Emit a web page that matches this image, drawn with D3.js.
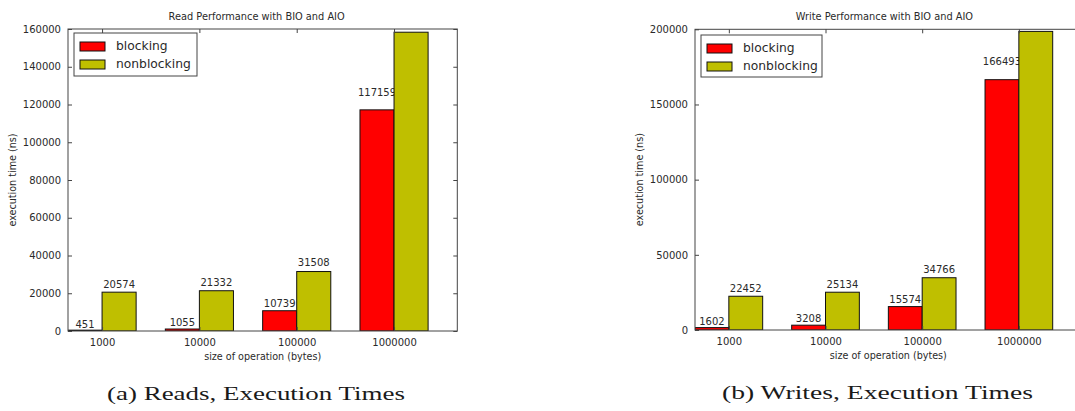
<!DOCTYPE html>
<html>
<head>
<meta charset="utf-8">
<script src="https://cdn.jsdelivr.net/npm/d3@7/dist/d3.min.js"></script>
<style>
  html, body { margin: 0; padding: 0; background: #fff; }
  svg { display: block; }
</style>
</head>
<body>
<svg id="chart" width="1075" height="411"></svg>
<script>
// ---------- data ----------
const categories = ["1000", "10000", "100000", "1000000"];
const seriesNames = ["blocking", "nonblocking"];
const readBlocking = [451, 1055, 10739, 117159];
const readNonblocking = [20574, 21332, 31508, 158300];
const writeBlocking = [1602, 3208, 15574, 166493];
const writeNonblocking = [22452, 25134, 34766, 198600];
const readYTicks = [0, 20000, 40000, 60000, 80000, 100000, 120000, 140000, 160000];
const writeYTicks = [0, 50000, 100000, 150000, 200000];
const titles = ["Read Performance with BIO and AIO", "Write Performance with BIO and AIO"];
const captions = ["(a) Reads, Execution Times", "(b) Writes, Execution Times"];
const xLabel = "size of operation (bytes)";
const yLabel = "execution time (ns)";

// ---------- style ----------
const colors = ["#ff0000", "#bfbf00"];
const barWidth = 0.35;
const sans = "DejaVu Sans, sans-serif";
const textColor = "#2a2a2a";
const spineColor = "#444";

const svg = d3.select("#chart");

function drawChart(cfg) {
  const { left, right, top, bottom, yMax, yTicks, blocking, nonblocking, title, caption, id, legend, cap } = cfg;
  const x = d3.scaleLinear().domain([0, categories.length]).range([left, right]);
  const y = d3.scaleLinear().domain([0, yMax]).range([bottom, top]);
  const g = svg.append("g");

  g.append("clipPath").attr("id", "clip" + id)
    .append("rect").attr("x", left).attr("y", top).attr("width", right - left).attr("height", bottom - top);

  const plot = g.append("g").attr("clip-path", `url(#clip${id})`);
  const series = [blocking, nonblocking];
  series.forEach((vals, s) => {
    const layer = plot.append("g");
    layer.selectAll("rect").data(vals).join("rect")
      .attr("x", (d, i) => x(i + s * barWidth))
      .attr("y", d => y(d))
      .attr("width", (d, i) => x(i + (s + 1) * barWidth) - x(i + s * barWidth))
      .attr("height", d => y(0) - y(d))
      .attr("fill", colors[s])
      .attr("stroke", "#111")
      .attr("stroke-width", 1);
    layer.selectAll("text").data(vals).join("text")
      .attr("x", (d, i) => x(i + s * barWidth + barWidth / 2))
      .attr("y", d => y(d * 1.05) - 2.5)
      .attr("text-anchor", "middle")
      .attr("font-family", sans).attr("font-size", 10)
      .attr("fill", textColor)
      .text(d => d);
  });

  // Axes (inward ticks on all four sides)
  const yAxisL = d3.axisLeft(y).tickValues(yTicks).tickSize(-4).tickPadding(7).tickFormat(d3.format("d"));
  const yAxisR = d3.axisRight(y).tickValues(yTicks).tickSize(-4).tickFormat("");
  const xAxisB = d3.axisBottom(x).tickValues(categories.map((c, i) => i + barWidth))
    .tickSize(-4).tickPadding(8).tickFormat((d, i) => categories[i]);
  const xAxisT = d3.axisTop(x).tickValues(categories.map((c, i) => i + barWidth)).tickSize(-4).tickFormat("");

  const axes = [
    g.append("g").attr("transform", `translate(${left},0)`).call(yAxisL),
    g.append("g").attr("transform", `translate(${right},0)`).call(yAxisR),
    g.append("g").attr("transform", `translate(0,${bottom})`).call(xAxisB),
    g.append("g").attr("transform", `translate(0,${top})`).call(xAxisT)
  ];
  axes.forEach(a => {
    a.select(".domain").remove();
    a.selectAll(".tick line").attr("stroke", spineColor);
    a.selectAll(".tick text").attr("font-family", sans).attr("font-size", 10).attr("fill", textColor);
  });

  // frame
  g.append("rect").attr("x", left).attr("y", top).attr("width", right - left).attr("height", bottom - top)
    .attr("fill", "none").attr("stroke", spineColor).attr("stroke-width", 1);

  // title
  g.append("text").attr("x", (left + right) / 2 + cfg.titleDx).attr("y", top - 9)
    .attr("text-anchor", "middle").attr("font-family", sans).attr("font-size", 9.8)
    .attr("fill", textColor).text(title);

  // axis labels
  g.append("text").attr("x", (left + Math.min(right, 458 + (left - 68))) / 2).attr("y", bottom + 29)
    .attr("text-anchor", "middle").attr("font-family", sans).attr("font-size", 9.6)
    .attr("fill", textColor).text(xLabel);
  g.append("text").attr("transform", `translate(${cfg.yLabelX},${(top + bottom) / 2}) rotate(-90)`)
    .attr("text-anchor", "middle").attr("dy", "0.35em").attr("font-family", sans).attr("font-size", 9.6)
    .attr("fill", textColor).text(yLabel);

  // legend
  const lg = g.append("g").attr("transform", `translate(${legend.x},${legend.y})`);
  lg.append("rect").attr("width", legend.w).attr("height", legend.h)
    .attr("fill", "#fff").attr("stroke", spineColor).attr("stroke-width", 1);
  seriesNames.forEach((name, s) => {
    lg.append("rect").attr("x", 6).attr("y", 9 + s * 18).attr("width", 25).attr("height", 9)
      .attr("fill", colors[s]).attr("stroke", "#111").attr("stroke-width", 1);
    lg.append("text").attr("x", 42).attr("y", 16.5 + s * 18)
      .attr("font-family", sans).attr("font-size", 12.3).attr("fill", textColor).text(name);
  });

  // caption
  svg.append("text").attr("x", cap.x).attr("y", cap.y)
    .attr("font-family", "Liberation Serif, serif").attr("font-size", 18.5)
    .attr("textLength", cap.w).attr("lengthAdjust", "spacingAndGlyphs")
    .attr("fill", "#1a1a1a").text(caption);
}

drawChart({
  id: "a", left: 68, right: 457.3, top: 29, bottom: 331, yMax: 160000, yTicks: readYTicks,
  blocking: readBlocking, nonblocking: readNonblocking, title: titles[0], caption: captions[0],
  titleDx: -6, yLabelX: 13,
  legend: { x: 74, y: 33, w: 123, h: 43 },
  cap: { x: 107, y: 400, w: 298 }
});
drawChart({
  id: "b", left: 695, right: 1081.7, top: 29.3, bottom: 330, yMax: 200000, yTicks: writeYTicks,
  blocking: writeBlocking, nonblocking: writeNonblocking, title: titles[1], caption: captions[1],
  titleDx: -4, yLabelX: 640,
  legend: { x: 701, y: 35, w: 121, h: 42 },
  cap: { x: 722, y: 399, w: 311 }
});
</script>
</body>
</html>
